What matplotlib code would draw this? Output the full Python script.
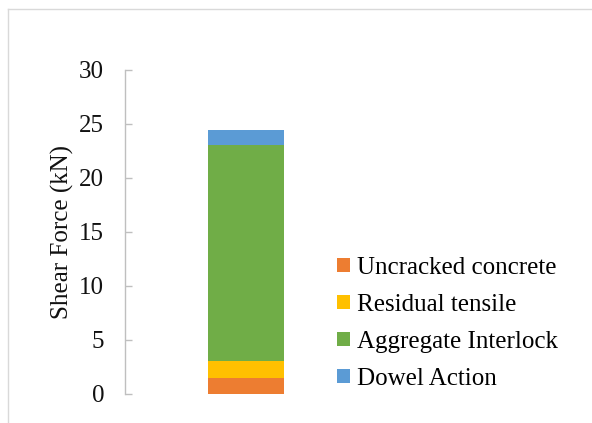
import matplotlib
matplotlib.use("Agg")
import matplotlib.pyplot as plt
from matplotlib.lines import Line2D

plt.rcParams['font.family'] = ['Liberation Serif', 'DejaVu Serif']

# shear force contributions (kN), stacked bottom to top
components = ['Uncracked concrete', 'Residual tensile', 'Aggregate Interlock', 'Dowel Action']
values = [1.4, 1.6, 20.0, 1.45]
colors = ['#ED7D31', '#FFC000', '#70AD47', '#5B9BD5']
yticks = [0, 5, 10, 15, 20, 25, 30]

fig = plt.figure(figsize=(5.92, 4.23), dpi=100)
ax = fig.add_axes([0.211, 0.0697, 0.409, 0.765])

bottom = 0
handles = []
for name, val, col in zip(components, values, colors):
    b = ax.bar(0, val, width=0.314, bottom=bottom, color=col, label=name)
    handles.append(b)
    bottom += val

ax.set_xlim(-0.5, 0.5)
ax.set_ylim(0, 30)
ax.set_yticks(yticks)
ax.set_xticks([])
for s in ['top', 'right', 'bottom']:
    ax.spines[s].set_visible(False)
ax.spines['left'].set_color('#BFBFBF')
ax.spines['left'].set_linewidth(1.0)
ax.tick_params(axis='y', direction='in', length=5, width=1.0, color='#BFBFBF',
               pad=15, labelsize=18, labelcolor='#111111')

ax.set_ylabel('Shear Force (kN)', fontsize=18, color='#111111')
ax.yaxis.set_label_coords(-0.21, 0.5)

fig.legend(handles=handles, labels=components, loc='center left',
           bbox_to_anchor=(0.569, 0.236), frameon=False, fontsize=18,
           handlelength=0.52, handleheight=0.52, handletextpad=0.28,
           labelspacing=0.6, borderpad=0, borderaxespad=0)

# chart border (top and left edges visible)
fig.add_artist(Line2D([8 / 592, 8 / 592], [0, 1 - 9 / 423], transform=fig.transFigure,
                      color='#D9D9D9', linewidth=1.0))
fig.add_artist(Line2D([8 / 592, 1], [1 - 9 / 423, 1 - 9 / 423], transform=fig.transFigure,
                      color='#D9D9D9', linewidth=1.0))

fig.savefig('out.png', dpi=100)
